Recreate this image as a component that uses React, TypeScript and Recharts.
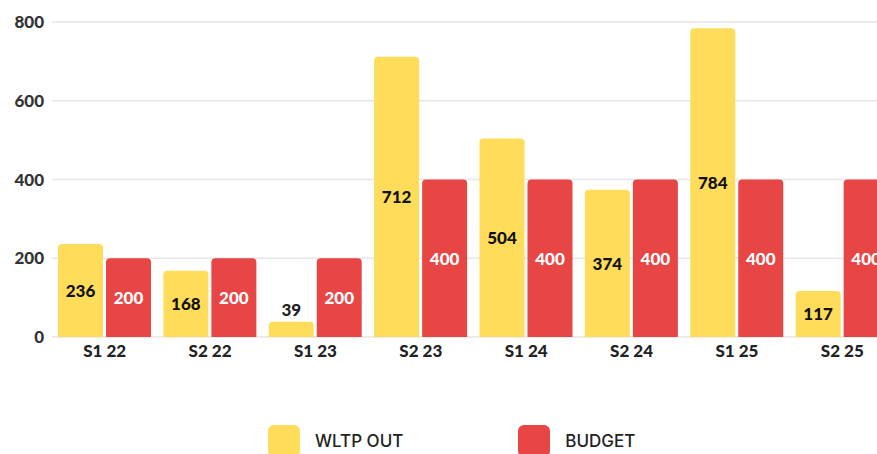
import React from 'react';
import { BarChart, Bar, XAxis, YAxis, CartesianGrid, Legend, LabelList } from 'recharts';

const periods = ['S1 22', 'S2 22', 'S1 23', 'S2 23', 'S1 24', 'S2 24', 'S1 25', 'S2 25'];
const wltpOut = [236, 168, 39, 712, 504, 374, 784, 117];
const budget = [200, 200, 200, 400, 400, 400, 400, 400];
const yTicks = [0, 200, 400, 600, 800];

const YELLOW = '#FFDC5A';
const RED = '#E84545';

const data = periods.map((name, i) => ({ name, wltp: wltpOut[i], budget: budget[i] }));

const makeLabel = (color: string) => (props: any) => {
  const { x, y, width, height, value } = props;
  const small = height < 28;
  const cy = small ? y - 12 : y + height / 2;
  return (
    <text
      x={x + width / 2}
      y={cy}
      textAnchor="middle"
      dominantBaseline="central"
      fill={small ? '#222' : color}
      style={{ fontFamily: 'Lato', fontWeight: 900, fontSize: 17 }}
    >
      {value}
    </text>
  );
};

const legendItems = [
  { label: 'WLTP OUT', color: YELLOW },
  { label: 'BUDGET', color: RED },
];

const renderLegend = () => (
  <div style={{ display: 'flex', height: 45, alignItems: 'flex-start' }}>
    {legendItems.map((it, i) => (
      <div key={it.label} style={{ display: 'flex', alignItems: 'center', marginRight: i === 0 ? 115 : 0 }}>
        <div style={{ width: 32, height: 32, borderRadius: 6, background: it.color }} />
        <span
          style={{
            marginLeft: 15,
            fontFamily: 'Inter',
            fontWeight: 500,
            fontSize: 17,
            color: '#222',
          }}
        >
          {it.label}
        </span>
      </div>
    ))}
  </div>
);

export default function App() {
  return (
    <div style={{ position: 'absolute', top: 0, left: 0, width: 877, height: 454, overflow: 'hidden', background: '#fff' }}>
      <BarChart
        width={900}
        height={470}
        data={data}
        margin={{ top: 22, right: 5, bottom: 0, left: 0 }}
        barSize={45}
        barGap={3}
      >
        <CartesianGrid vertical={false} stroke="#e6e6e6" strokeWidth={1.5} />
        <XAxis
          dataKey="name"
          axisLine={false}
          tickLine={false}
          height={88}
          tick={{ fill: '#222', fontFamily: 'Lato', fontWeight: 900, fontSize: 17 }}
        />
        <YAxis
          width={52}
          domain={[0, 800]}
          ticks={yTicks}
          axisLine={false}
          tickLine={false}
          tick={{ fill: '#333', fontFamily: 'Lato', fontWeight: 900, fontSize: 17 }}
        />
        <Legend
          verticalAlign="bottom"
          content={renderLegend}
          wrapperStyle={{ left: 268, width: 500 }}
        />
        <Bar dataKey="wltp" name="WLTP OUT" fill={YELLOW} radius={[4, 4, 0, 0]} isAnimationActive={false}>
          <LabelList dataKey="wltp" content={makeLabel('#111')} />
        </Bar>
        <Bar dataKey="budget" name="BUDGET" fill={RED} radius={[4, 4, 0, 0]} isAnimationActive={false}>
          <LabelList dataKey="budget" content={makeLabel('#fff')} />
        </Bar>
      </BarChart>
    </div>
  );
}
